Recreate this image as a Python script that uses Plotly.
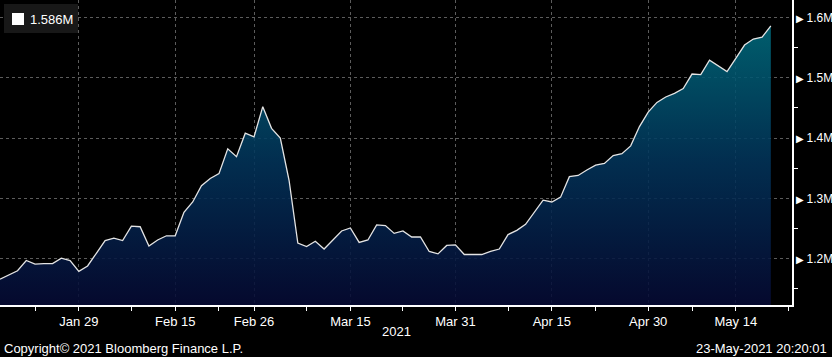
import plotly.graph_objects as go
import pandas as pd

# Business-day dates (trading days) from Jan 18 to May 20, 2021
dates = pd.bdate_range("2021-01-18", "2021-05-20").strftime("%Y-%m-%d").tolist()

# Values in millions
values_m = [
    1.166, 1.173, 1.180, 1.197, 1.191, 1.192, 1.192, 1.201, 1.197, 1.179,
    1.188, 1.209, 1.230, 1.234, 1.230, 1.254, 1.253, 1.221, 1.231, 1.238,
    1.238, 1.277, 1.294, 1.321, 1.333, 1.341, 1.382, 1.369, 1.408, 1.402,
    1.452, 1.416, 1.400, 1.330, 1.226, 1.220, 1.229, 1.216, 1.231, 1.246,
    1.251, 1.227, 1.231, 1.256, 1.255, 1.242, 1.246, 1.236, 1.236, 1.212,
    1.208, 1.222, 1.223, 1.207, 1.207, 1.207, 1.212, 1.216, 1.240, 1.247,
    1.257, 1.277, 1.297, 1.294, 1.302, 1.336, 1.338, 1.347, 1.355, 1.358,
    1.371, 1.374, 1.387, 1.419, 1.443, 1.459, 1.468, 1.474, 1.482, 1.506,
    1.505, 1.529, 1.520, 1.510, 1.532, 1.554, 1.564, 1.567, 1.586,
]

x_tick_dates = ["2021-01-29", "2021-02-15", "2021-02-26", "2021-03-15",
                "2021-03-31", "2021-04-15", "2021-04-30", "2021-05-14"]
x_tick_labels = ["Jan 29", "Feb 15", "Feb 26", "Mar 15",
                 "Mar 31", "Apr 15", "Apr 30", "May 14"]
x_minor_dates = ["2021-01-22", "2021-02-08", "2021-02-22", "2021-03-08",
                 "2021-03-23", "2021-04-08", "2021-04-22", "2021-05-07", "2021-05-24"]

y_tick_vals = [1.2, 1.3, 1.4, 1.5, 1.6]
y_tick_labels = ["1.2M", "1.3M", "1.4M", "1.5M", "1.6M"]
y_minor_vals = [1.15, 1.25, 1.35, 1.45, 1.55]

FONT = "Liberation Sans"
FS = 13
GRID = "#5c5c5c"
W, H = 832, 357
ML, MR, MT, MB = 0, 40, 0, 52
PW, PH = W - ML - MR, H - MT - MB

fig = go.Figure()
fig.add_trace(go.Scatter(
    x=dates, y=values_m, mode="lines",
    line=dict(color="#e4e4e4", width=1.3),
    fill="tozeroy",
    fillgradient=dict(
        type="vertical",
        colorscale=[[0, "rgba(6,10,52,0.88)"], [0.5, "rgba(2,52,90,0.88)"], [1, "rgba(0,110,126,0.88)"]],
        start=1.123, stop=1.6,
    ),
    showlegend=False,
    hoverinfo="skip",
))

fig.update_layout(
    width=W, height=H,
    margin=dict(l=ML, r=MR, t=MT, b=MB, autoexpand=False),
    paper_bgcolor="black", plot_bgcolor="black",
    font=dict(family=FONT, size=FS, color="white"),
    showlegend=False,
    xaxis=dict(
        type="date",
        range=["2021-01-18", "2021-05-24 10:00"],
        rangebreaks=[dict(bounds=["sat", "mon"])],
        tickmode="array", tickvals=x_tick_dates, ticktext=x_tick_labels,
        ticks="outside", ticklen=4, tickcolor="white", tickwidth=1,
        showgrid=True, gridcolor=GRID, griddash="3px,3px", gridwidth=1,
        showline=True, linecolor="white", linewidth=1.5,
        zeroline=False, automargin=False,
        tickfont=dict(family=FONT, size=FS, color="white"),
        minor=dict(tickmode="array", tickvals=x_minor_dates, ticks="outside",
                   ticklen=4, tickcolor="white", showgrid=False),
    ),
    yaxis=dict(
        side="right",
        range=[1.1233, 1.6287],
        tickmode="array", tickvals=y_tick_vals,
        ticktext=["<span style='font-size:10px'>\u25B6</span>\u2009" + t for t in y_tick_labels],
        ticks="", ticklabelstandoff=0,
        showgrid=True, gridcolor=GRID, griddash="3px,3px", gridwidth=1,
        showline=True, linecolor="white", linewidth=1.5,
        zeroline=False, automargin=False,
        tickfont=dict(family=FONT, size=12, color="white"),
        minor=dict(tickmode="array", tickvals=y_minor_vals, ticks="outside",
                   ticklen=4, tickcolor="white", showgrid=False),
    ),
)

# Legend-like box (top-left)
fig.add_shape(type="rect", xref="paper", yref="paper",
              x0=4 / PW, x1=78 / PW, y0=1 - 33 / PH, y1=1 - 4 / PH,
              fillcolor="#181818", line=dict(width=0), layer="above")
fig.add_shape(type="rect", xref="paper", yref="paper",
              x0=12 / PW, x1=24 / PW, y0=1 - 25 / PH, y1=1 - 13 / PH,
              fillcolor="white", line=dict(width=0), layer="above")
fig.add_annotation(xref="paper", yref="paper", x=28 / PW, y=1 - 19 / PH,
                   xanchor="left", yanchor="middle", showarrow=False,
                   text=f"{values_m[-1]:.3f}M",
                   font=dict(family=FONT, size=FS, color="white"))

# Year label and footer
fig.add_annotation(xref="paper", yref="paper", x=396 / PW, y=(PH - 331) / PH,
                   xanchor="center", yanchor="middle", showarrow=False, text="2021",
                   font=dict(family=FONT, size=FS, color="white"))
fig.add_annotation(xref="paper", yref="paper", x=2 / PW, y=(PH - 348) / PH,
                   xanchor="left", yanchor="middle", showarrow=False,
                   text="Copyright\u00a9 2021 Bloomberg Finance L.P.",
                   font=dict(family=FONT, size=FS, color="white"))
fig.add_annotation(xref="paper", yref="paper", x=829 / PW, y=(PH - 348) / PH,
                   xanchor="right", yanchor="middle", showarrow=False,
                   text="23-May-2021 20:20:01",
                   font=dict(family=FONT, size=FS, color="white"))

fig.write_html("out.html", config={"displayModeBar": False},
               post_script="document.body.style.margin='0';document.body.style.overflow='hidden';")
